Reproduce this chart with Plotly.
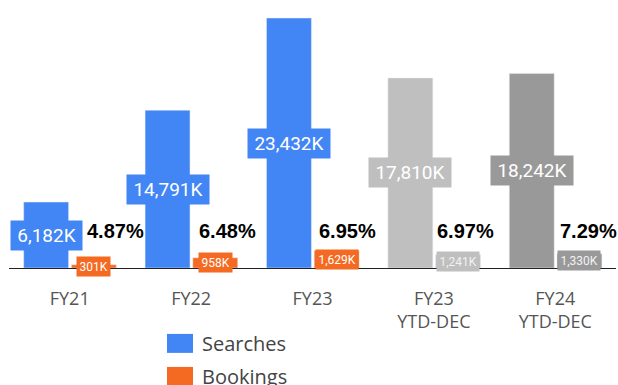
import plotly.graph_objects as go

# Yearly totals (thousands)
categories = ["FY21", "FY22", "FY23", "FY23<br>YTD-DEC", "FY24<br>YTD-DEC"]
searches = [6182, 14791, 23432, 17810, 18242]
bookings = [301, 958, 1629, 1241, 1330]

BLUE = "#4285F4"
ORANGE = "#F46A22"
LIGHT_GRAY = "#BFBFBF"
DARK_GRAY = "#999999"

search_colors = [BLUE, BLUE, BLUE, LIGHT_GRAY, DARK_GRAY]
booking_colors = [ORANGE, ORANGE, ORANGE, LIGHT_GRAY, DARK_GRAY]

# Bar geometry in category units
BAR_W = 0.37
S_OFF = -0.379
B_OFF = 0.014
# horizontal nudge (px) of the conversion-rate labels
rate_dx = [46, 36, 35, 32, 33]

x = list(range(len(categories)))

fig = go.Figure()
fig.add_trace(go.Bar(
    x=x, y=searches, name="Searches", marker_color=search_colors,
    width=BAR_W, offset=S_OFF, showlegend=False, hoverinfo="skip",
))
fig.add_trace(go.Bar(
    x=x, y=bookings, name="Bookings", marker_color=booking_colors,
    width=BAR_W, offset=B_OFF, showlegend=False, hoverinfo="skip",
))

annotations = []
for i, (s, b) in enumerate(zip(searches, bookings)):
    st = f"{s:,}K"
    annotations.append(dict(
        x=i + S_OFF + BAR_W / 2, y=s / 2, xref="x", yref="y",
        text=st, showarrow=False, bgcolor=search_colors[i],
        font=dict(family="Roboto", size=19, color="white"),
        borderpad=4, width=11 * len(st) - 3, height=21,
        xanchor="center", yanchor="middle",
    ))
    bt = f"{b:,}K"
    annotations.append(dict(
        x=i + B_OFF + BAR_W / 2, y=b / 2, xref="x", yref="y",
        text=bt, showarrow=False, bgcolor=booking_colors[i],
        font=dict(family="Roboto", size=12,
                  color="white" if i < 3 else "#F2F2F2"),
        borderpad=2.5, xanchor="center", yanchor="middle",
    ))
    rate = b / s * 100
    annotations.append(dict(
        x=i, y=3470, xref="x", yref="y", xshift=rate_dx[i],
        text=f"<b>{rate:.2f}%</b>", showarrow=False,
        font=dict(family="Liberation Sans", size=20, color="black"),
        xanchor="center", yanchor="middle",
    ))

# Legend drawn below the axis
legend_items = [("Searches", BLUE, -0.290), ("Bookings", ORANGE, -0.417)]
shapes = []
for name, color, yc in legend_items:
    shapes.append(dict(
        type="rect", xref="paper", yref="paper",
        x0=0.2603, x1=0.3031, y0=yc - 0.0365, y1=yc + 0.0365,
        fillcolor=color, line=dict(width=0),
    ))
    annotations.append(dict(
        x=0.3147, y=yc, xref="paper", yref="paper", text=name,
        showarrow=False, xanchor="left", yanchor="middle",
        font=dict(family="Open Sans", size=20, color="#444444"),
    ))

fig.update_layout(
    width=618, height=385,
    margin=dict(l=9, r=2, t=8, b=117),
    paper_bgcolor="white", plot_bgcolor="white",
    barmode="group",
    xaxis=dict(
        range=[-0.5, 4.5], tickvals=x, ticktext=categories,
        showline=True, linecolor="#222222", linewidth=1,
        showgrid=False, zeroline=False,
        ticks="outside", ticklen=14, tickcolor="rgba(0,0,0,0)",
        tickfont=dict(family="Open Sans", size=18, color="#555555"),
    ),
    yaxis=dict(range=[0, 24370], visible=False, showgrid=False),
    annotations=annotations,
    shapes=shapes,
)

fig.write_html("out.html")
